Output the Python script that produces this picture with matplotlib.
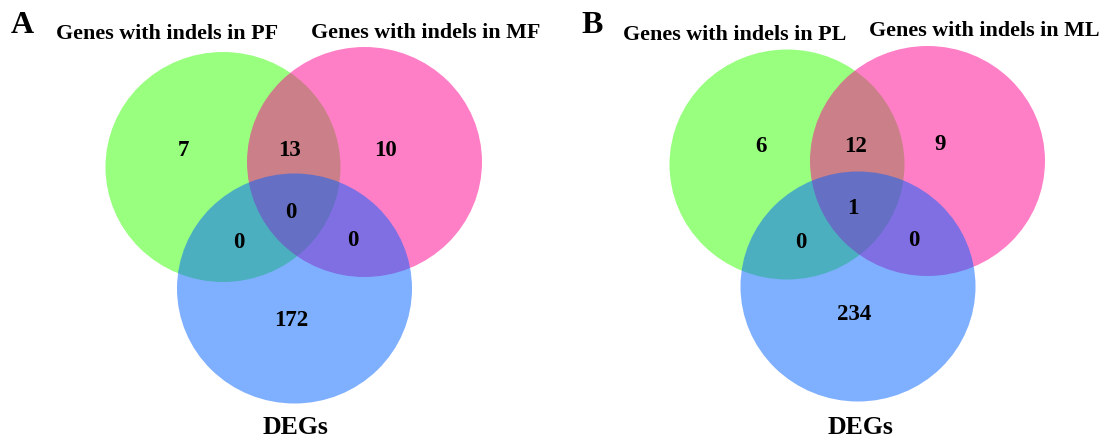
import matplotlib
matplotlib.use("Agg")
import matplotlib.pyplot as plt
from matplotlib.patches import Ellipse

# region counts: only-first, first&second, only-second, all three, first&DEGs, second&DEGs, only-DEGs
counts_a = [7, 13, 10, 0, 0, 0, 172]
counts_b = [6, 12, 9, 1, 0, 0, 234]
sets_a = ["Genes with indels in PF", "Genes with indels in MF", "DEGs"]
sets_b = ["Genes with indels in PL", "Genes with indels in ML", "DEGs"]
panel_tags = ["A", "B"]

colors = ["#33FF00", "#FF0091", "#0060FF"]
font = dict(family="Liberation Serif", fontweight="bold", color="black")

# pixel layout of each panel: circle centres, number spots, set-label anchors
layout = [
    dict(centers=[(223, 167), (364.5, 162), (294.5, 288.5)],
         spots=[(183, 150), (290, 150), (385, 151), (291, 212), (239, 243), (353, 241), (291, 321)],
         names=[(167, 39), (426, 38), (295.5, 434)],
         tag=(11, 33)),
    dict(centers=[(787, 164.5), (927.5, 161), (858, 286.5)],
         spots=[(761, 146), (856, 147), (940, 145), (853, 208), (801, 242), (914, 240), (854, 314)],
         names=[(734.5, 40), (984, 36), (860, 434)],
         tag=(581, 33)),
]

fig = plt.figure(figsize=(11.05, 4.37), dpi=100)
ax = fig.add_axes([0, 0, 1, 1])
ax.set_xlim(0, 1105)
ax.set_ylim(437, 0)
ax.axis("off")

for counts, names, tag, lay in zip([counts_a, counts_b], [sets_a, sets_b], panel_tags, layout):
    for (cx, cy), c in zip(lay["centers"], colors):
        ax.add_patch(Ellipse((cx, cy), 235, 230, facecolor=c, edgecolor="none", alpha=0.5))
    for n, (x, y) in zip(counts, lay["spots"]):
        ax.text(x, y, str(n), ha="center", va="center", fontsize=16.5, **font)
    for i, (name, (x, y)) in enumerate(zip(names, lay["names"])):
        ax.text(x, y, name, ha="center", va="baseline",
                fontsize=18.5 if i == 2 else 15.8, **font)
    ax.text(lay["tag"][0], lay["tag"][1], tag, ha="left", va="baseline", fontsize=23, **font)

fig.savefig("out.png", dpi=100)
